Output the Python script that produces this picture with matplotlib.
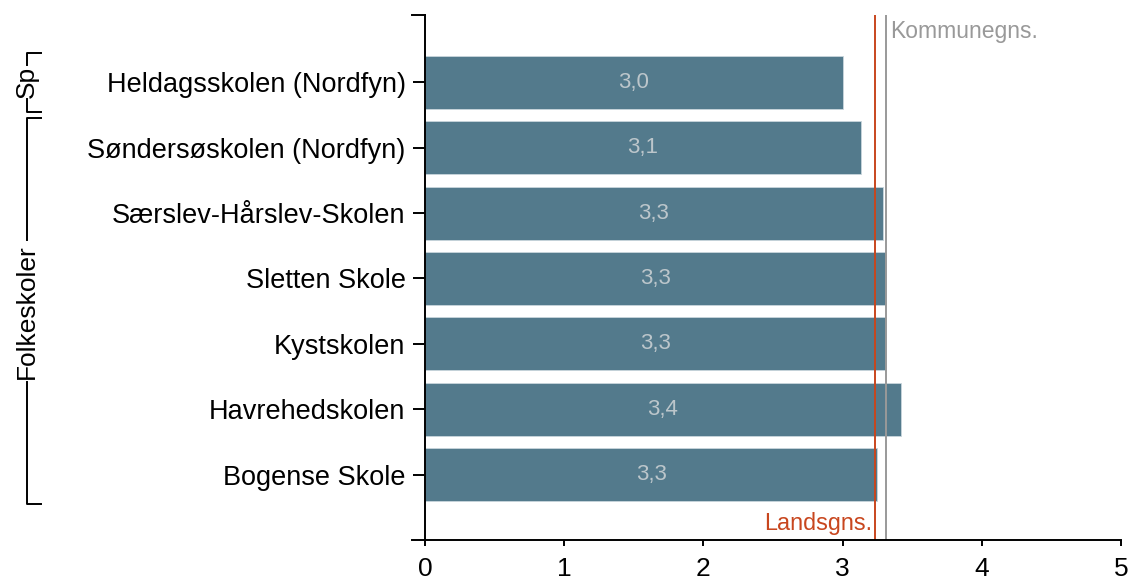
import matplotlib.pyplot as plt
from matplotlib.lines import Line2D

plt.rcParams['font.family'] = ['Liberation Sans', 'DejaVu Sans']

schools = ["Heldagsskolen (Nordfyn)", "Søndersøskolen (Nordfyn)", "Særslev-Hårslev-Skolen",
           "Sletten Skole", "Kystskolen", "Havrehedskolen", "Bogense Skole"]
values = [3.00, 3.13, 3.29, 3.31, 3.31, 3.42, 3.25]
labels = ["3,0", "3,1", "3,3", "3,3", "3,3", "3,4", "3,3"]
lands_avg = 3.23
kommune_avg = 3.31
groups = [("Sp", 0, 0), ("Folkeskoler", 1, 6)]

fig = plt.figure(figsize=(11.31, 5.82), dpi=100)
ax = fig.add_axes([425 / 1131, 42 / 582, 696 / 1131, 525 / 582])

pos = list(range(len(schools)))
ax.barh(pos, values, height=0.81, color="#537a8c", edgecolor="#c9d6dc", linewidth=0.6)
for p, v, t in zip(pos, values, labels):
    ax.text(v / 2, p, t, ha="center", va="center", color="#bcc6cb", fontsize=16)

ax.axvline(lands_avg, color="#c8461e", lw=1.4)
ax.axvline(kommune_avg, color="#999999", lw=1.4)
ax.text(lands_avg - 0.02, 6.93, "Landsgns.", color="#c8461e", ha="right", va="bottom", fontsize=16.8)
ax.text(kommune_avg + 0.03, -0.77, "Kommunegns.", color="#999999", ha="left", va="center", fontsize=16.5)

ax.set_xlim(0, 5)
ax.set_ylim(7.0, -1.03)
ax.set_xticks([0, 1, 2, 3, 4, 5])
ax.set_xticklabels(["0", "1", "2", "3", "4", "5"])
ax.set_yticks(pos)
ax.set_yticklabels(schools)
ax.tick_params(axis="y", labelsize=19.5, length=9, width=1.4, pad=5)
ax.tick_params(axis="x", labelsize=19, length=4.5, width=1.4, pad=8)
for s in ["top", "right"]:
    ax.spines[s].set_visible(False)
for s in ["left", "bottom"]:
    ax.spines[s].set_linewidth(1.4)

# stubs at the ends of the axis lines
stub = 13 / 696
ax.add_line(Line2D([-stub, 0], [1, 1], transform=ax.transAxes, color="black", lw=1.4, clip_on=False))
ax.add_line(Line2D([-stub, 0], [0, 0], transform=ax.transAxes, color="black", lw=1.4, clip_on=False))

# group brackets on the left
def px_y(row):
    return ax.transData.transform((0, row))[1] / fig.bbox.height

fig.canvas.draw()
x0, x1 = 27 / 1131, 41 / 1131
for name, a, b in groups:
    top = px_y(a - 0.45)
    bot = px_y(b + 0.45)
    mid = (top + bot) / 2
    gap = (len(name) * 12 + 10) / 582
    kw = dict(color="black", lw=1.4, transform=fig.transFigure)
    fig.add_artist(Line2D([x1, x0, x0], [top, top, min(top, mid + gap / 2)], **kw))
    fig.add_artist(Line2D([x0, x0, x1], [max(bot, mid - gap / 2), bot, bot], **kw))
    fig.text(x0, mid, name, rotation=90, ha="center", va="center", fontsize=19)

fig.savefig("out.png", dpi=100)
